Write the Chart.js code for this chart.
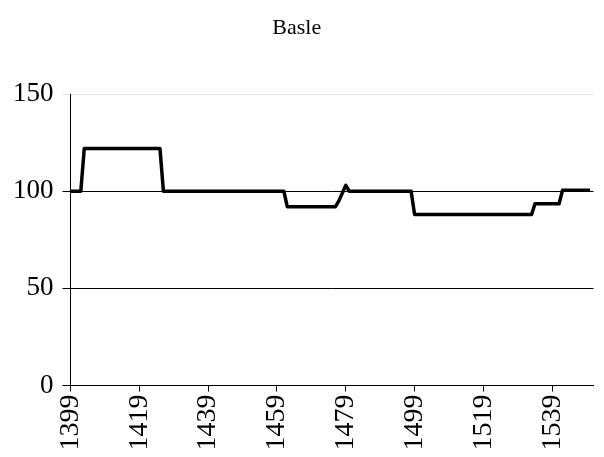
<!DOCTYPE html>
<html>
<head>
<meta charset="utf-8">
<script src="https://cdn.jsdelivr.net/npm/chart.js@4"></script>
<style>
  html, body { margin: 0; padding: 0; background: #fff; }
  #wrap { width: 604px; height: 457px; }
</style>
</head>
<body>
<div id="wrap"><canvas id="c" width="604" height="457"></canvas></div>
<script>
// Years at which the series changes (breakpoints of the annual series)
const years  = [1399, 1402, 1403, 1425, 1426, 1461, 1462, 1476, 1477, 1478, 1479, 1480, 1498, 1499, 1533, 1534, 1541, 1542, 1550];
const values = [100,  100,  122,  122,  100,  100,  92,   92,   95,   99,   103,  100,  100,  88,   88,   93.5, 93.5, 100.5, 100.5];
const xTickYears = [1399, 1419, 1439, 1459, 1479, 1499, 1519, 1539];
const yTickValues = [0, 50, 100, 150];
const chartTitle = "Basle";

const points = years.map((y, i) => ({ x: y, y: values[i] }));
const serif = "'Liberation Serif', 'Times New Roman', serif";

new Chart(document.getElementById('c'), {
  type: 'line',
  data: {
    datasets: [{
      data: points,
      borderColor: '#000',
      borderWidth: 3.5,
      pointRadius: 0,
      tension: 0,
      fill: false,
      borderJoinStyle: 'round',
      borderCapStyle: 'butt'
    }]
  },
  options: {
    responsive: false,
    animation: false,
    devicePixelRatio: 1,
    layout: { padding: { left: 0, right: 10.5, top: 0, bottom: 0 } },
    plugins: {
      legend: { display: false },
      tooltip: { enabled: false },
      title: {
        display: true,
        text: chartTitle,
        color: '#000',
        font: { family: serif, size: 22, weight: 'normal' },
        padding: { top: 15, bottom: 52.6 }
      }
    },
    scales: {
      x: {
        type: 'linear',
        min: 1399,
        max: 1551,
        afterBuildTicks: (scale) => { scale.ticks = xTickYears.map(v => ({ value: v })); },
        afterFit: (scale) => { scale.height = 71.5; },
        border: { display: true, color: '#000', width: 1 },
        grid: { display: true, drawOnChartArea: false, drawTicks: true, tickLength: 6, color: '#000' },
        ticks: {
          color: '#000',
          font: { family: serif, size: 28 },
          minRotation: 90,
          maxRotation: 90,
          autoSkip: false,
          padding: 3,
          callback: (v) => String(v)
        }
      },
      y: {
        min: 0,
        max: 150,
        afterBuildTicks: (scale) => { scale.ticks = yTickValues.map(v => ({ value: v })); },
        afterFit: (scale) => { scale.width = 70.5; },
        border: { display: true, color: '#000', width: 1 },
        grid: {
          display: true,
          drawTicks: true,
          tickLength: 8,
          color: (ctx) => (ctx.tick && ctx.tick.value === 150) ? '#e6e6e6' : '#000'
        },
        ticks: {
          color: '#000',
          font: { family: serif, size: 27 },
          padding: 9,
          callback: (v) => String(v)
        }
      }
    }
  }
});
</script>
</body>
</html>
